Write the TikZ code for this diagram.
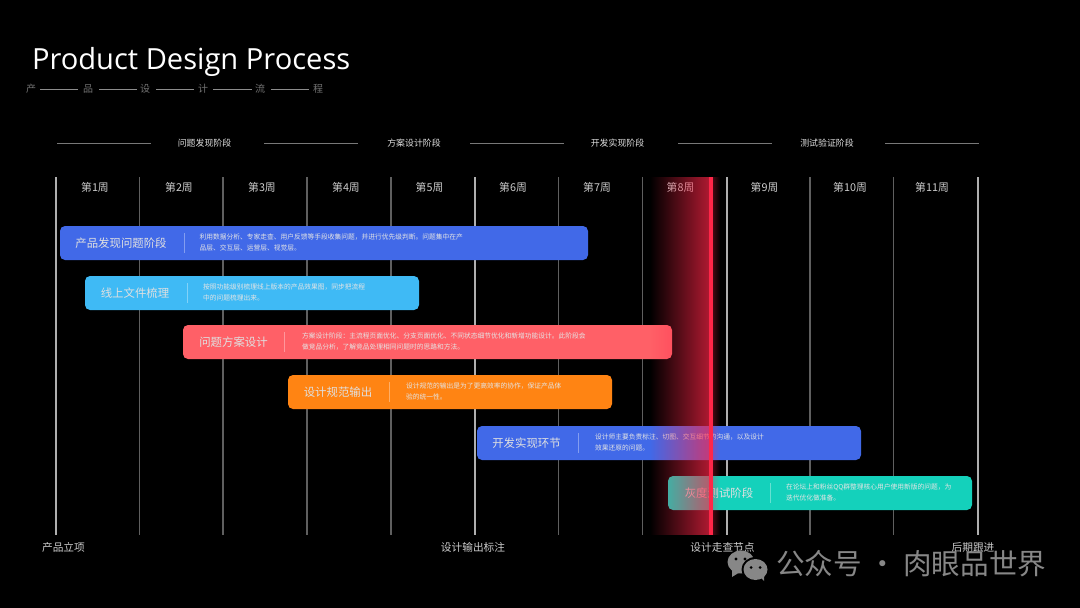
\documentclass[tikz,border=0pt]{standalone}
\usepackage{fontspec}
\setmainfont{Noto Sans CJK SC}
\newfontfamily\titlefont{Open Sans}
\usetikzlibrary{fadings}
\definecolor{cblue}{RGB}{65,105,232}
\definecolor{csky}{RGB}{63,186,245}
\definecolor{cred}{RGB}{255,96,103}
\definecolor{corange}{RGB}{255,132,19}
\definecolor{cteal}{RGB}{20,209,187}
\definecolor{crim}{RGB}{255,38,72}
\definecolor{thick}{RGB}{175,175,175}
\definecolor{thin}{RGB}{95,95,95}
\tikzfading[name=fadeleft, left color=transparent!100, right color=transparent!32]
\tikzfading[name=faderight, left color=transparent!75, right color=transparent!100]
\tikzset{
  x=1pt,y=-1pt,
  every node/.style={inner sep=0pt,outer sep=0pt,font=\fontsize{11}{13}\selectfont},
  barbox/.style={rounded corners=5pt,minimum height=34pt,text width=0pt},
  bartitle/.style={text=white!88!black,font=\fontsize{11.4}{14}\selectfont,anchor=center},
  bardetail/.style={text=white!90!black,font=\fontsize{6.75}{11}\selectfont,anchor=west,align=left},
  bardiv/.style={draw=white,draw opacity=.35,line width=.6pt},
  thickline/.style={draw=thick,line width=2pt},
  thinline/.style={draw=thin,line width=1.1pt},
  headline/.style={draw=white!47!black,line width=1.2pt},
  headtext/.style={text=white!88!black,font=\fontsize{8.9}{11}\selectfont},
  weektext/.style={text=white!80!black,font=\fontsize{10.8}{12}\selectfont},
  milestone/.style={text=white!80!black,font=\fontsize{10.7}{12}\selectfont},
  subchar/.style={text=white!45!black,font=\fontsize{10}{12}\selectfont},
  subline/.style={draw=white!55!black,line width=.8pt},
}
% #1 name #2 colour #3 x1 #4 x2 #5 y1 #6 title centre #7 divider x #8 text x #9 text
\newcommand{\barrow}[9]{%
  \node[barbox,fill=#2,minimum width=#4pt-#3pt,anchor=north west] (#1) at (#3,#5) {};
  \node[bartitle] (#1t) at (#6,#5+17) {\phantom{}};
  \draw[bardiv] (#7,#5+7) -- (#7,#5+27);
  \node[bardetail] (#1d) at (#8,#5+16.5) {#9};
}
\begin{document}
\begin{tikzpicture}
\useasboundingbox (0,0) rectangle (1080,608);
\fill[black] (0,0) rectangle (1080,608);

\node[anchor=west,text=white,font=\titlefont\fontsize{29.1}{34}\selectfont] (title) at (32,61.5) {Product Design Process};
\foreach \n/\c/\x in {s1/产/31,s2/品/88,s3/设/145,s4/计/203,s5/流/260,s6/程/318}
  \node[subchar] (\n) at (\x,89) {\c};
\foreach \a/\b in {40/78,99/137,156/194,213/252,271/309}
  \draw[subline] (\a,89.5) -- (\b,89.5);

\foreach \a/\b in {57/151,264/358,470/564,678/772,885/979}
  \draw[headline] (\a,143.5) -- (\b,143.5);
\node[headtext] (h1) at (204.5,143.5) {问题发现阶段};
\node[headtext] (h2) at (414,143.5) {方案设计阶段};
\node[headtext] (h3) at (617.5,143.5) {开发实现阶段};
\node[headtext] (h4) at (827,143.5) {测试验证阶段};

\foreach \x in {139.5,223,307,391,558.5,642.5,810,893.5}
  \draw[thinline] (\x,177) -- (\x,535);
\foreach \x in {55.5,474.5,726.5,977.5}
  \draw[thickline] (\x,177) -- (\x,535);

\foreach \n/\x in {1/95,2/179,3/262,4/346,5/429.5,6/513,7/597,8/680.5,9/764.5,10/850,11/932}
  \node[weektext] (w\n) at (\x,187.5) {第\n 周};

\barrow{b1}{cblue}{60}{588}{226}{121}{184}{199.5}{利用数据分析、专家走查、用户反馈等手段收集问题，并进行优先级判断。问题集中在产\\品层、交互层、运营层、视觉层。}
\node[bartitle] at (b1t) {产品发现问题阶段};
\barrow{b2}{csky}{85}{419}{276}{135}{187}{203}{按照功能级别梳理线上版本的产品效果图，同步把流程\\中的问题梳理出来。}
\node[bartitle] at (b2t) {线上文件梳理};
\barrow{b3}{cred}{183}{672}{325}{233.5}{284.5}{302}{方案设计阶段：主流程页面优化、分支页面优化、不同状态细节优化和新增功能设计。此阶段会\\做竞品分析，了解竞品处理相同问题时的思路和方法。}
\node[bartitle] at (b3t) {问题方案设计};
\barrow{b4}{corange}{288}{612}{375}{338}{389}{406}{设计规范的输出是为了更高效率的协作，保证产品体\\验的统一性。}
\node[bartitle] at (b4t) {设计规范输出};
\barrow{b5}{cblue}{477}{861}{426}{526.5}{578.5}{595}{设计师主要负责标注、切图、交互细节的沟通，以及设计\\效果还原的问题。}
\node[bartitle] at (b5t) {开发实现环节};
\barrow{b6}{cteal}{668}{972}{476}{719}{770}{786}{在论坛上和粉丝QQ群整理核心用户使用新版的问题，为\\迭代优化做准备。}
\node[bartitle] at (b6t) {灰度测试阶段};

\fill[crim,path fading=fadeleft] (650,177) rectangle (709,535);
\fill[crim,path fading=faderight] (713,177) rectangle (720,535);
\fill[crim] (709,177) rectangle (713,535);

\node[milestone] (m1) at (63.5,547.5) {产品立项};
\node[milestone] (m2) at (473,547.5) {设计输出标注};
\node[milestone] (m3) at (722.5,547.5) {设计走查节点};
\node[milestone] (m4) at (973,547.5) {后期跟进};

% watermark
\definecolor{wm}{RGB}{135,135,135}
\fill[wm] (741,562) ellipse [x radius=13.5,y radius=11.5];
\fill[wm] (732,570) -- (732,577) -- (740,572) -- cycle;
\fill[black] (755.5,569.5) ellipse [x radius=14,y radius=12.5];
\fill[wm] (755.5,569.5) ellipse [x radius=12,y radius=10.5];
\fill[wm] (760,577) -- (764,581) -- (764,574) -- cycle;
\fill[black] (736,559) circle (1.6);
\fill[black] (745,559) circle (1.6);
\fill[black] (751,567.5) circle (1.5);
\fill[black] (760,567.5) circle (1.5);
\node[anchor=west,text=wm,font=\fontsize{28.6}{30}\selectfont] (wmt) at (776,564) {公众号 · 肉眼品世界};
\end{tikzpicture}
\end{document}
